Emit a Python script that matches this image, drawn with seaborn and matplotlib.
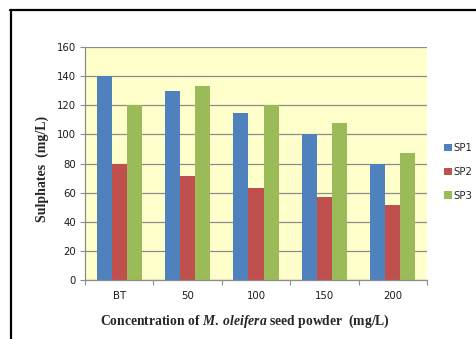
import matplotlib
matplotlib.use("Agg")
import matplotlib.pyplot as plt
from matplotlib.lines import Line2D
from matplotlib.ticker import FixedLocator
import seaborn as sns
import pandas as pd

# Sulphate concentration by coagulant dose for three water samples
doses = ["BT", "50", "100", "150", "200"]
sp1 = [140, 129.5, 115, 100, 80]
sp2 = [80, 71.5, 63, 57, 51.5]
sp3 = [120, 133, 120, 108, 87]
series_names = ["SP1", "SP2", "SP3"]
y_ticks = [0, 20, 40, 60, 80, 100, 120, 140, 160]

colors = ["#4F81BD", "#C0504D", "#9BBB59"]

df = pd.DataFrame({
    "dose": doses * 3,
    "value": sp1 + sp2 + sp3,
    "sample": [s for s in series_names for _ in doses],
})

sns.set_style("white")
plt.rcParams["font.family"] = ["DejaVu Sans"]
plt.rcParams["mathtext.fontset"] = "custom"
plt.rcParams["mathtext.it"] = "Liberation Serif:italic:bold"
plt.rcParams["mathtext.rm"] = "Liberation Serif:bold"

fig = plt.figure(figsize=(4.77, 3.39), dpi=100)
ax = fig.add_axes([85 / 477, 1 - 280 / 339, (427 - 85) / 477, (280 - 47) / 339])

sns.barplot(data=df, x="dose", y="value", hue="sample", order=doses,
            hue_order=series_names, palette=colors, width=0.66, gap=0,
            saturation=1, linewidth=0, ax=ax, legend=True)

ax.set_facecolor("#FFFFCC")
ax.set_ylim(0, 160)
ax.set_xlim(-0.5, len(doses) - 0.5)
ax.set_yticks(y_ticks)
ax.yaxis.grid(True, color="#8C8C8C", linewidth=0.9)
ax.set_axisbelow(True)

for side in ["top", "right"]:
    ax.spines[side].set_visible(False)
for side in ["left", "bottom"]:
    ax.spines[side].set_color("#8C8C8C")
    ax.spines[side].set_linewidth(0.9)

ax.tick_params(axis="y", which="major", direction="out", length=3.5,
               width=0.8, color="#8C8C8C", labelsize=7.3, pad=3,
               labelcolor="#1A1A1A", left=True)
ax.tick_params(axis="x", which="major", length=0, labelsize=7.3, pad=8,
               labelcolor="#1A1A1A")
ax.xaxis.set_minor_locator(FixedLocator([i - 0.5 for i in range(len(doses) + 1)]))
ax.tick_params(axis="x", which="minor", direction="out", length=3.5,
               width=0.8, color="#8C8C8C", bottom=True)

ax.set_xlabel("")
ax.set_ylabel("")

fig.text(42 / 477, 1 - 169 / 339, "Sulphates  (mg/L)", rotation=90,
         ha="center", va="center", fontsize=10, fontweight="bold",
         family="Liberation Serif")
fig.text(245 / 477, 1 - 321 / 339,
         r"Concentration of $\mathit{M.\;oleifera}$ seed powder  (mg/L)",
         ha="center", va="center", fontsize=9.8, fontweight="bold",
         family="Liberation Serif")

ax.legend(loc="center left", bbox_to_anchor=(444 / 477, 1 - 172 / 339),
          bbox_transform=fig.transFigure, frameon=False, fontsize=7.3,
          handlelength=0.75, handleheight=0.75, handletextpad=0.15,
          labelspacing=1.35, borderaxespad=0, borderpad=0)

# Outer frame: top and left edges only
fig.add_artist(Line2D([10 / 477, 1], [1 - 10 / 339, 1 - 10 / 339],
                      transform=fig.transFigure, color="black", linewidth=1.6))
fig.add_artist(Line2D([11 / 477, 11 / 477], [0, 1 - 10 / 339],
                      transform=fig.transFigure, color="black", linewidth=1.6))

fig.savefig("out.png", dpi=100)
